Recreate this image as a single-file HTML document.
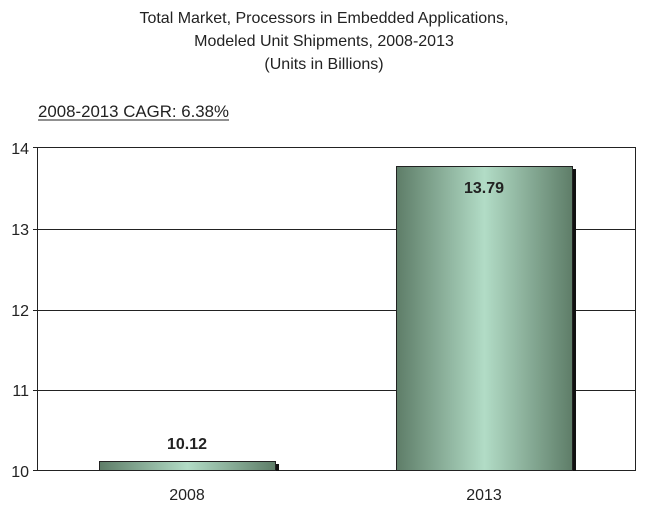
<!DOCTYPE html><html><head><style>body{margin:0;background:#fff}</style></head><body>
<svg width="648" height="511" xmlns="http://www.w3.org/2000/svg" font-family="Liberation Sans, sans-serif">
<defs><linearGradient id="g" x1="0" x2="1"><stop offset="0" stop-color="#5e7d68"/><stop offset="0.5" stop-color="#b2dcc6"/><stop offset="1" stop-color="#5e7d68"/></linearGradient></defs>
<text x="324" y="23" font-size="16" text-anchor="middle" fill="#222">Total Market, Processors in Embedded Applications,</text>
<text x="324" y="46" font-size="16" text-anchor="middle" fill="#222">Modeled Unit Shipments, 2008-2013</text>
<text x="324" y="69" font-size="16" text-anchor="middle" fill="#222">(Units in Billions)</text>
<text x="38" y="117" font-size="16.5" fill="#222" textLength="191" lengthAdjust="spacingAndGlyphs">2008-2013 CAGR: 6.38%</text>
<line x1="38" y1="120" x2="229" y2="120" stroke="#222"/>
<rect x="37.5" y="147.5" width="598" height="323" fill="none" stroke="#222"/>
<g stroke="#222"><line x1="33" y1="229.5" x2="636" y2="229.5"/><line x1="33" y1="310.5" x2="636" y2="310.5"/><line x1="33" y1="390.5" x2="636" y2="390.5"/><line x1="33" y1="147.5" x2="37" y2="147.5"/><line x1="33" y1="470.5" x2="636" y2="470.5"/></g>
<g font-size="16" fill="#222" text-anchor="end"><text x="29" y="154">14</text><text x="29" y="235">13</text><text x="29" y="316">12</text><text x="29" y="396">11</text><text x="29" y="477">10</text></g>
<rect x="399" y="169" width="177" height="302" fill="#111"/>
<rect x="396.5" y="166.5" width="176" height="304" fill="url(#g)" stroke="#222"/>
<rect x="102" y="464" width="177" height="7" fill="#111"/>
<rect x="99.5" y="461.5" width="176" height="9" fill="url(#g)" stroke="#222"/>
<text x="484" y="193" font-size="16" font-weight="bold" text-anchor="middle" fill="#222">13.79</text>
<text x="187" y="449" font-size="16" font-weight="bold" text-anchor="middle" fill="#222">10.12</text>
<text x="187" y="500" font-size="16" text-anchor="middle" fill="#222">2008</text>
<text x="484" y="500" font-size="16" text-anchor="middle" fill="#222">2013</text>
</svg></body></html>
